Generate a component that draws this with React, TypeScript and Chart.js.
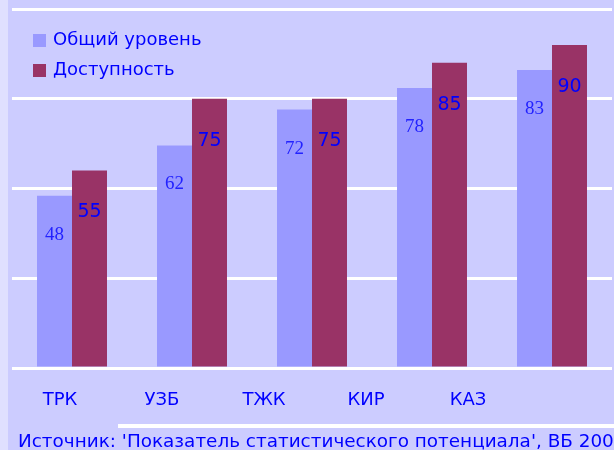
import React, { useEffect, useRef } from "react";
import { Chart, registerables } from "chart.js";

Chart.register(...registerables);

const categories = ["ТРК", "УЗБ", "ТЖК", "КИР", "КАЗ"];
const overallLevel = [48, 62, 72, 78, 83];
const accessibility = [55, 75, 75, 85, 90];
const seriesNames = ["Общий уровень", "Доступность"];
const seriesColors = ["#9999FF", "#993366"];
const yTicks = [0, 25, 50, 75, 100];
const sourceText = "Источник: 'Показатель статистического потенциала', ВБ 200";

const TEXT_BLUE = "#0000FF";
const SANS = '"DejaVu Sans", Verdana, sans-serif';

const decorPlugin = {
  id: "decor",
  afterDatasetsDraw(chart: any) {
    const ctx = chart.ctx;
    // value labels
    chart.data.datasets.forEach((ds: any, i: number) => {
      const meta = chart.getDatasetMeta(i);
      meta.data.forEach((el: any, j: number) => {
        ctx.save();
        ctx.font = i === 0 ? '19px "Liberation Serif", serif' : "19px " + SANS;
        ctx.fillStyle = i === 0 ? "#2222FF" : TEXT_BLUE;
        ctx.textAlign = "center";
        ctx.textBaseline = "middle";
        ctx.fillText(String(ds.data[j]), el.x, el.y + (i === 0 ? 39 : 42));
        ctx.restore();
      });
    });
    // legend
    chart.data.datasets.forEach((ds: any, i: number) => {
      const top = 34 + i * 30;
      ctx.save();
      ctx.fillStyle = ds.backgroundColor;
      ctx.fillRect(25, top, 13, 13);
      ctx.font = "18px " + SANS;
      ctx.fillStyle = TEXT_BLUE;
      ctx.textAlign = "left";
      ctx.textBaseline = "middle";
      ctx.fillText(ds.label, 45, top + 6);
      ctx.restore();
    });
  },
  afterDraw(chart: any) {
    const ctx = chart.ctx;
    ctx.save();
    ctx.fillStyle = "#FFFFFF";
    ctx.fillRect(110, 424, chart.width - 110, 4);
    ctx.font = "18.4px " + SANS;
    ctx.fillStyle = TEXT_BLUE;
    ctx.textAlign = "left";
    ctx.textBaseline = "middle";
    ctx.fillText(sourceText, 10, 442);
    ctx.restore();
  },
};

export default function App() {
  const ref = useRef<HTMLCanvasElement>(null);
  useEffect(() => {
    if (!ref.current) return;
    const chart = new Chart(ref.current, {
      type: "bar",
      data: {
        labels: categories,
        datasets: [
          {
            label: seriesNames[0],
            data: overallLevel,
            backgroundColor: seriesColors[0],
            borderWidth: 0,
            categoryPercentage: 70 / 120,
            barPercentage: 1,
          },
          {
            label: seriesNames[1],
            data: accessibility,
            backgroundColor: seriesColors[1],
            borderWidth: 0,
            categoryPercentage: 70 / 120,
            barPercentage: 1,
          },
        ],
      },
      plugins: [decorPlugin],
      options: {
        animation: false,
        responsive: false,
        devicePixelRatio: 1,
        layout: { padding: { top: 9, left: 4, right: 2, bottom: 22 } },
        plugins: {
          legend: { display: false },
          tooltip: { enabled: false },
          title: { display: false },
        },
        scales: {
          x: {
            display: false,
            offset: true,
          },
          xl: {
            type: "linear",
            position: "bottom",
            bounds: "data",
            offset: false,
            min: -0.4706,
            max: 5.412,
            afterBuildTicks: (s: any) => {
              s.ticks = categories.map((_, i) => ({ value: i }));
            },
            afterFit: (s: any) => {
              s.height = 60;
            },
            grid: { display: false, drawTicks: false, offset: false },
            border: { display: false },
            ticks: {
              autoSkip: false,
              maxRotation: 0,
              padding: 22,
              color: TEXT_BLUE,
              font: { family: SANS, size: 18 },
              callback: (v: any) => categories[v] ?? "",
            },
          },
          y: {
            min: 0,
            max: 100,
            afterBuildTicks: (s: any) => {
              s.ticks = yTicks.map((v) => ({ value: v }));
            },
            grid: { color: "#FFFFFF", lineWidth: 3, drawTicks: false },
            border: { display: false },
            ticks: { display: false },
          },
        },
      },
    } as any);
    return () => chart.destroy();
  }, []);
  return (
    <div
      style={{
        position: "fixed",
        left: 0,
        top: 0,
        width: 614,
        height: 450,
        background: "#E0E0FF",
        overflow: "hidden",
      }}
    >
      <canvas
        ref={ref}
        width={606}
        height={450}
        style={{ position: "absolute", left: 8, top: 0, width: 606, height: 450, background: "#CCCCFF" }}
      />
    </div>
  );
}
